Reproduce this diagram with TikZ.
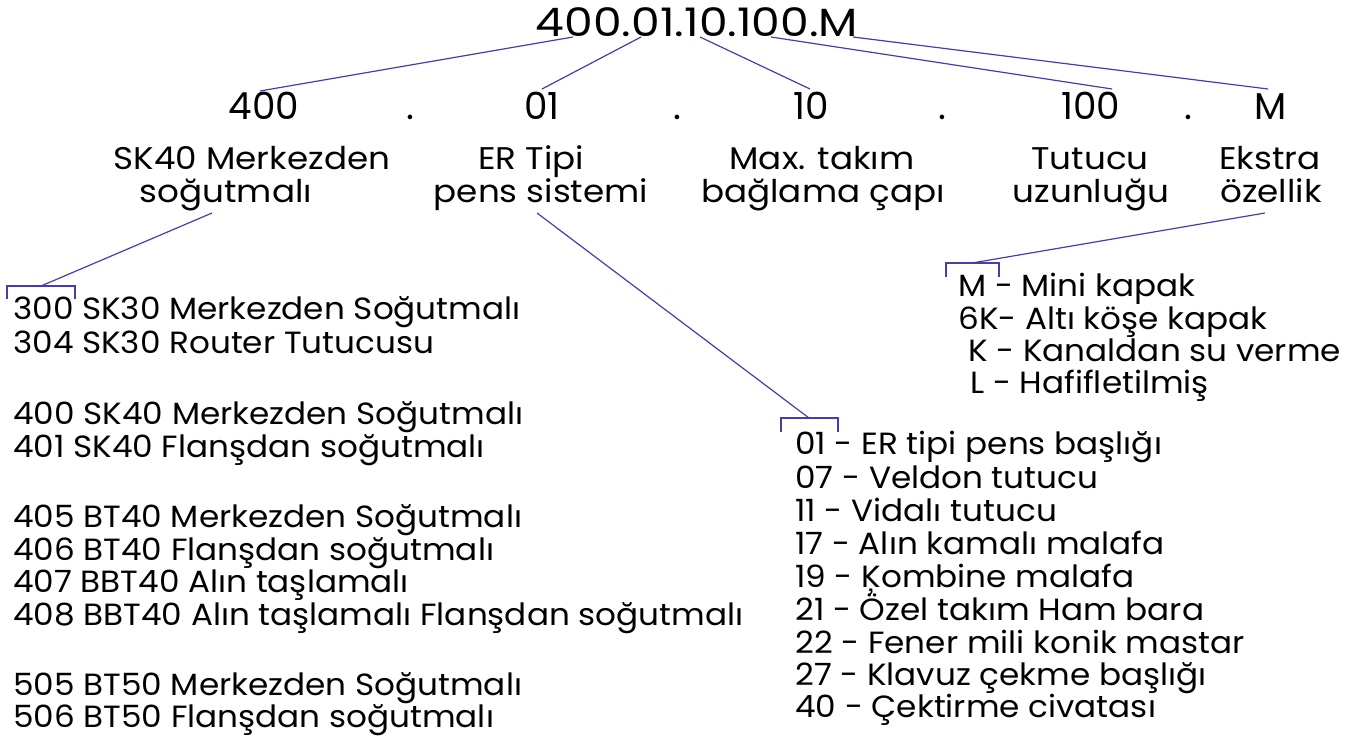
\documentclass[tikz,border=0pt]{standalone}
\usepackage{fontspec}
\setmainfont{Poppins}
\newfontfamily\listfont[FakeStretch=1.065]{Poppins}
\newfontfamily\descfont[FakeStretch=1.09]{Poppins}
\newfontfamily\titlefont[FakeStretch=1.16]{Poppins}
\definecolor{lnkc}{RGB}{75,60,165}
\tikzset{
  txt/.style={inner sep=0pt, font=\listfont\fontsize{23}{28}\selectfont},
  desc/.style={inner sep=0pt, font=\descfont\fontsize{23.5}{28}\selectfont},
  big/.style={inner sep=0pt, font=\fontsize{28}{34}\selectfont},
  ttl/.style={inner sep=0pt, font=\titlefont\fontsize{29.5}{34}\selectfont},
  lnk/.style={draw=lnkc, line width=0.9pt},
}
\begin{document}
\begin{tikzpicture}[x=0.75pt,y=-0.75pt]
\useasboundingbox (0,0) rectangle (1364,737);
% title
\node[ttl, anchor=base] (title) at (697,37) {400.01.10.100.M};
% row 2
\node[big, anchor=base] (n400) at (264,120) {400};
\node[big, anchor=base] (p1) at (410,120) {.};
\node[big, anchor=base] (n01) at (542,120) {01};
\node[big, anchor=base] (p2) at (677,120) {.};
\node[big, anchor=base] (n10) at (811,120) {10};
\node[big, anchor=base] (p3) at (942,120) {.};
\node[big, anchor=base] (n100) at (1091,120) {100};
\node[big, anchor=base] (p4) at (1188,120) {.};
\node[big, anchor=base] (nM) at (1271,120) {M};
% row 3 descriptions
\node[desc, anchor=base] (d1a) at (252,170) {SK40 Merkezden};
\node[desc, anchor=base] (d1b) at (226,203) {soğutmalı};
\node[desc, anchor=base] (d2a) at (531,170) {ER Tipi};
\node[desc, anchor=base] (d2b) at (541,203) {pens sistemi};
\node[desc, anchor=base] (d3a) at (822,170) {Max. takım};
\node[desc, anchor=base] (d3b) at (823,203) {bağlama çapı};
\node[desc, anchor=base] (d4a) at (1090,170) {Tutucu};
\node[desc, anchor=base] (d4b) at (1091,203) {uzunluğu};
\node[desc, anchor=base] (d5a) at (1270,170) {Ekstra};
\node[desc, anchor=base] (d5b) at (1271,203) {özellik};
% left list
\foreach \y/\t [count=\i] in {320/300 SK30 Merkezden Soğutmalı, 354/304 SK30 Router Tutucusu,
  425/400 SK40 Merkezden Soğutmalı, 458/401 SK40 Flanşdan soğutmalı,
  528/405 BT40 Merkezden Soğutmalı, 561/406 BT40 Flanşdan soğutmalı,
  593/407 BBT40 Alın taşlamalı, 625/408 BBT40 Alın taşlamalı Flanşdan soğutmalı,
  695/505 BT50 Merkezden Soğutmalı, 727/506 BT50 Flanşdan soğutmalı}
  \node[txt, anchor=base west] (L\i) at (13,\y) {\t};
% middle list
\foreach \y/\t [count=\i] in {455/01 - ER tipi pens başlığı, 489/07 - Veldon tutucu,
  522/11 - Vidalı tutucu, 555/17 - Alın kamalı malafa, 588/19 - Ķombine malafa,
  620/21 - Özel takım Ham bara, 653/22 - Fener mili konik mastar,
  685/27 - Klavuz çekme başlığı, 717/40 - Çektirme civatası}
  \node[txt, anchor=base west] (C\i) at (795,\y) {\t};
% right list
\node[txt, anchor=base west] (R1) at (958,297) {M - Mini kapak};
\node[txt, anchor=base west] (R2) at (958,330) {6K- Altı köşe kapak};
\node[txt, anchor=base west] (R3) at (968,362) {K - Kanaldan su verme};
\node[txt, anchor=base west] (R4) at (970,394) {L - Hafifletilmiş};
% connector end points
\coordinate (t400) at (573,37);
\coordinate (t01) at (641,37);
\coordinate (t10) at (700,37);
\coordinate (t100) at (771,37);
\coordinate (tM) at (853,37);
\coordinate (e400) at (260,91);
\coordinate (e01) at (542,89);
\coordinate (e10) at (810,89);
\coordinate (e100) at (1112,89);
\coordinate (eM) at (1268,89);
\draw[lnk] (t400) -- (e400);
\draw[lnk] (t01) -- (e01);
\draw[lnk] (t10) -- (e10);
\draw[lnk] (t100) -- (e100);
\draw[lnk] (tM) -- (eM);
% brackets
\coordinate (s1) at (212,213);
\coordinate (b1) at (41,286);
\draw[lnk] (s1) -- (b1);
\draw[lnk] (7,299) -- (7,286) -- (75,286) -- (75,299);
\coordinate (s2) at (537,213);
\coordinate (b2) at (809,418);
\draw[lnk] (s2) -- (b2);
\draw[lnk] (781,432) -- (781,418) -- (838,418) -- (838,432);
\coordinate (s3) at (1265,213);
\coordinate (b3) at (972,263);
\draw[lnk] (s3) -- (b3);
\draw[lnk] (946,277) -- (946,263) -- (999,263) -- (999,277);
\end{tikzpicture}
\end{document}
